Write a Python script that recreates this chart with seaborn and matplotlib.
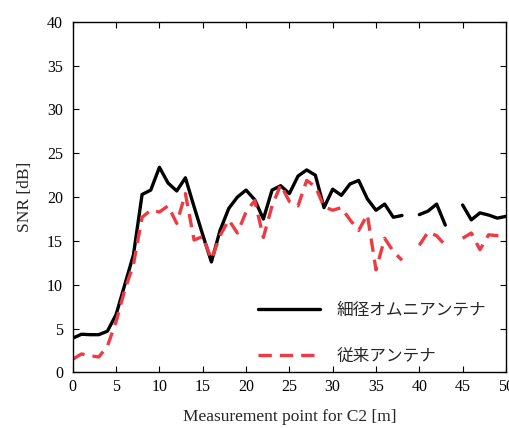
import numpy as np
import pandas as pd
import matplotlib
matplotlib.use('Agg')
import matplotlib.pyplot as plt
from matplotlib.lines import Line2D
import seaborn as sns

x_pos = list(range(0, 51))
snr_omni = [3.9, 4.35, 4.3, 4.3, 4.7, 6.6, 10.0, 13.4, 20.3, 20.8,
            23.4, 21.6, 20.7, 22.2, 18.9, 15.7, 12.6, 16.2, 18.7, 20.0,
            20.8, 19.7, 17.5, 20.8, 21.3, 20.4, 22.4, 23.1, 22.5, 18.8,
            20.9, 20.2, 21.5, 21.9, 19.8, 18.5, 19.2, 17.7, 17.9, np.nan,
            18.0, 18.4, 19.2, 16.8, np.nan, 19.1, 17.4, 18.2, 17.95, 17.6,
            17.8]
snr_conv = [1.5, 2.1, 1.9, 1.75, 3.0, 5.8, 9.4, 12.3, 17.7, 18.5,
            18.3, 19.0, 17.0, 20.4, 15.1, 15.5, 12.9, 15.6, 17.4, 15.9,
            18.3, 19.6, 15.4, 19.0, 21.4, 19.5, 19.0, 21.9, 21.2, 18.9,
            18.5, 18.8, 17.4, 16.2, 18.0, 11.7, 15.3, 13.8, 12.8, np.nan,
            14.5, 16.0, 15.6, 14.5, np.nan, 15.3, 15.9, 14.0, 15.7, 15.6,
            15.6]
labels = ['細径オムニアンテナ', '従来アンテナ']
colors = {labels[0]: '#000000', labels[1]: '#EE3B43'}

frames = []
for lab, vals in zip(labels, [snr_omni, snr_conv]):
    d = pd.DataFrame({'x': x_pos, 'snr': vals, 'antenna': lab})
    # break the line where data is missing
    d['seg'] = d['snr'].isna().cumsum()
    frames.append(d.dropna())
df = pd.concat(frames, ignore_index=True)

sns.set_style('ticks')
plt.rcParams['font.family'] = ['Liberation Serif', 'Noto Sans CJK JP']

fig = plt.figure(figsize=(5.09, 4.28), dpi=100)
ax = fig.add_axes([0.143, 0.13, 0.851, 0.819])

sns.lineplot(data=df, x='x', y='snr', hue='antenna', style='antenna',
             units='seg', estimator=None, palette=colors,
             dashes={labels[0]: '', labels[1]: (4, 2.4)},
             linewidth=2.4, legend=False, ax=ax)

ax.set_xlim(0, 50)
ax.set_ylim(0, 40)
ax.set_xticks(range(0, 51, 5))
ax.set_yticks(range(0, 41, 5))
ax.tick_params(direction='in', top=True, right=True, length=4, width=0.8,
               labelsize=11.5, colors='#000000')
ax.tick_params(axis='y', pad=7)
ax.tick_params(axis='x', pad=5)
for s in ax.spines.values():
    s.set_linewidth(1.0)
    s.set_color('#000000')
ax.set_xlabel('Measurement point for C2 [m]', fontsize=12.5, labelpad=10)
ax.set_ylabel('SNR [dB]', fontsize=12.5, labelpad=10)

handles = [Line2D([], [], color=colors[labels[0]], lw=2.4),
           Line2D([], [], color=colors[labels[1]], lw=2.4, dashes=(4, 2.4))]
leg = ax.legend(handles, labels, loc='lower right', bbox_to_anchor=(0.972, 0.0),
                frameon=False, handlelength=3.7, handletextpad=1.0,
                labelspacing=1.75, borderaxespad=0.05,
                prop={'family': ['Noto Sans CJK JP'], 'size': 12})

fig.savefig('out.png', dpi=100)
